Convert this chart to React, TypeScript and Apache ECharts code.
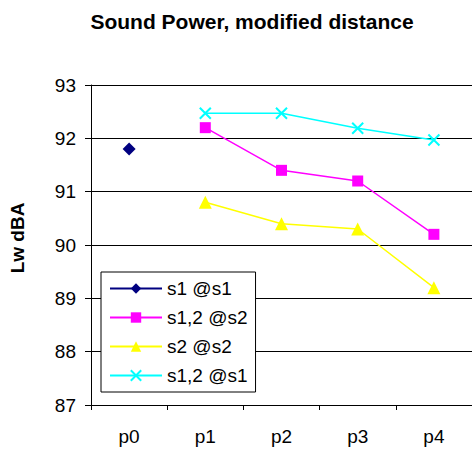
import React, { useEffect, useRef } from "react";
import * as echarts from "echarts";

const categories = ["p0", "p1", "p2", "p3", "p4"];
const s1AtS1 = [91.8, null, null, null, null];
const s12AtS2 = [null, 92.2, 91.4, 91.2, 90.2];
const s2AtS2 = [null, 90.8, 90.4, 90.3, 89.2];
const s12AtS1 = [null, 92.47, 92.47, 92.19, 91.97];
const seriesNames = ["s1 @s1", "s1,2 @s2", "s2 @s2", "s1,2 @s1"];

const FONT = "'Liberation Sans', Arial, sans-serif";

export default function App() {
  const ref = useRef<HTMLDivElement>(null);
  useEffect(() => {
    if (!ref.current) return;
    const chart = echarts.init(ref.current, null, { renderer: "svg" });
    const cross = "path://M0,0L10,10M10,0L0,10";
    chart.setOption({
      animation: false,
      backgroundColor: "#ffffff",
      title: {
        text: "Sound Power, modified distance",
        left: 247,
        textAlign: "center",
        top: 6,
        textStyle: { fontFamily: FONT, fontSize: 21, fontWeight: "bold", color: "#000" },
      },
      grid: { left: 87, top: 85, right: 0, bottom: 45, containLabel: false },
      legend: {
        orient: "vertical",
        left: 101,
        top: 272,
        width: 158,
        backgroundColor: "#fff",
        borderColor: "#000",
        borderWidth: 1,
        padding: [7, 8, 7, 8],
        itemWidth: 52,
        itemHeight: 13,
        itemGap: 10,
        data: seriesNames,
        textStyle: { fontFamily: FONT, fontSize: 19, color: "#000" },
      },
      xAxis: {
        type: "category",
        data: categories,
        boundaryGap: true,
        axisLine: { lineStyle: { color: "#000", width: 1 } },
        axisTick: { show: true, length: 5, lineStyle: { color: "#000" } },
        axisLabel: { fontFamily: FONT, fontSize: 19, color: "#000", margin: 22 },
        splitLine: { show: false },
      },
      yAxis: {
        type: "value",
        min: 87,
        max: 93,
        interval: 1,
        name: "Lw dBA",
        nameLocation: "middle",
        nameGap: 64,
        nameTextStyle: {
          fontFamily: FONT,
          fontSize: 19,
          fontWeight: "bold",
          color: "#000",
          padding: [0, 0, 0, 14],
        },
        axisLine: { show: true, lineStyle: { color: "#000", width: 1 } },
        axisTick: { show: true, length: 6, lineStyle: { color: "#000" } },
        axisLabel: { fontFamily: FONT, fontSize: 19, color: "#000", margin: 15 },
        splitLine: { show: true, lineStyle: { color: "#000", width: 1 } },
      },
      series: [
        {
          name: seriesNames[0],
          type: "line",
          data: s1AtS1,
          symbol: "diamond",
          symbolSize: 13,
          color: "#000080",
          lineStyle: { color: "#000080", width: 2 },
          itemStyle: { color: "#000080" },
        },
        {
          name: seriesNames[1],
          type: "line",
          data: s12AtS2,
          symbol: "rect",
          symbolSize: 11,
          color: "#FF00FF",
          lineStyle: { color: "#FF00FF", width: 1.5 },
          itemStyle: { color: "#FF00FF" },
        },
        {
          name: seriesNames[2],
          type: "line",
          data: s2AtS2,
          symbol: "triangle",
          symbolSize: 13,
          color: "#FFFF00",
          lineStyle: { color: "#FFFF00", width: 1.5 },
          itemStyle: { color: "#FFFF00" },
        },
        {
          name: seriesNames[3],
          type: "line",
          data: s12AtS1,
          symbol: cross,
          symbolSize: 11,
          color: "#00FFFF",
          lineStyle: { color: "#00FFFF", width: 1.5 },
          itemStyle: { color: "#00FFFF", borderColor: "#00FFFF", borderWidth: 2 },
        },
      ],
    });
    return () => chart.dispose();
  }, []);
  return (
    <div
      ref={ref}
      style={{ width: 472, height: 450, position: "absolute", left: 0, top: 0 }}
    />
  );
}
